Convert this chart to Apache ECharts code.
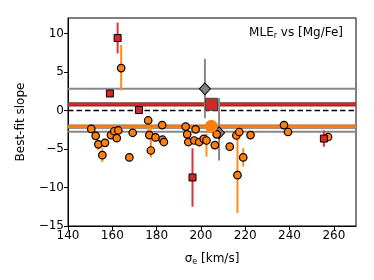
<!DOCTYPE html>
<html><head><meta charset="utf-8">
<script src="https://cdn.jsdelivr.net/npm/echarts@6/dist/echarts.min.js"></script>
<style>html,body{margin:0;padding:0;background:#fff}#c{width:374px;height:280px}</style>
</head><body><div id="c"></div>
<script>
// ---- data ----
const xTicks = [140, 160, 180, 200, 220, 240, 260];
const yTicks = [-15, -10, -5, 0, 5, 10];
const xRange = [140, 270];
const yRange = [-15, 12];

const orangeSigma = [150.5,152.5,153.7,156.7,155.5,159.4,160.9,162.7,162.0,169.2,167.7,176.2,176.7,177.4,179.5,182.5,182.7,183.3,193.1,193.8,194.3,197.0,197.6,199.2,201.3,202.5,206.3,207.1,213.0,216.0,217.3,216.5,219.1,222.4,237.5,239.3,257.4,164.0];
const orangeSlope = [-2.4,-3.3,-4.4,-4.2,-5.8,-3.2,-2.7,-2.6,-3.6,-2.9,-6.1,-1.3,-3.2,-5.2,-3.5,-1.9,-3.8,-4.1,-2.1,-3.1,-4.1,-3.9,-2.45,-4.1,-3.7,-3.9,-4.5,-3.1,-4.7,-3.25,-2.8,-8.4,-6.1,-3.2,-1.9,-2.8,-3.45,5.5];
const orangeErrSigma = [153.7,155.5,162.0,176.2,177.4,202.5,216.5,219.1,164.0];
const orangeErrLo    = [-5.1,-6.7,-4.1,-2.9,-6.1,-6.0,-13.3,-7.3,2.6];
const orangeErrHi    = [-4.4,-4.9,-3.1,-1.3,-2.3,-3.0,-3.3,-4.9,8.5];

const redSigma = [162.4,158.9,172.0,196.2,255.5];
const redSlope = [9.4,2.2,0.05,-8.7,-3.65];
const redErrSigma = [162.4,196.2,255.5];
const redErrLo    = [7.4,-12.5,-4.7];
const redErrHi    = [11.4,-4.9,-2.6];

const greySigma = [208.2,201.8];
const greySlope = [-2.9,2.8];
const greyErrLo = [-6.5,-1.0];
const greyErrHi = [1.6,6.7];

const meanOrange = [204.7,-2.05];
const meanRed = [204.8,0.8];
const hLineGrey = [2.8,-2.75];
const hLineRed = [0.8];
const hLineOrange = [-2.1];
const hLineZero = [0];

// ---- chart ----
const chart = echarts.init(document.getElementById('c'), null, {renderer:'canvas'});
const FONT = 'DejaVu Sans';
const minus = v => String(v).replace('-', '\u2212');
function errSeries(xs, lo, hi, color, w, z) {
  return {
    type:'custom', z:z, silent:true,
    data: xs.map((x,i)=>[x, lo[i], hi[i]]),
    encode:{x:0, y:[1,2]},
    renderItem:(params, api)=>{
      const a = api.coord([api.value(0), api.value(1)]);
      const b = api.coord([api.value(0), api.value(2)]);
      return {type:'line', shape:{x1:a[0],y1:a[1],x2:b[0],y2:b[1]}, style:{stroke:color, lineWidth:w}};
    }
  };
}
function hline(ys, color, w, dash, z) {
  return {
    type:'custom', z:z, silent:true, clip:true,
    data: ys.map(y=>[y]),
    encode:{y:0},
    renderItem:(params, api)=>{
      const y = api.value(0);
      const a = api.coord([xRange[0], y]);
      const b = api.coord([xRange[1], y]);
      return {type:'line', shape:{x1:a[0],y1:a[1],x2:b[0],y2:b[1]},
        style:{stroke:color, lineWidth:w, lineDash:dash}};
    }
  };
}
const series = [];
series.push(hline(hLineGrey, '#888888', 2, null, 1));
series.push(hline(hLineZero, '#000000', 1.6, [5.5,3], 2));
series.push(hline(hLineRed, '#7a3030', 4.2, null, 2));
series.push(hline(hLineRed, '#d62728', 2.6, null, 3));
series.push(hline(hLineOrange, '#8a6a50', 4.2, null, 2));
series.push(hline(hLineOrange, '#ff7f0e', 2.6, null, 3));
// grey points
series.push(errSeries(greySigma, greyErrLo, greyErrHi, '#888888', 2, 4));
series.push({type:'scatter', z:5, data:greySigma.map((x,i)=>[x,greySlope[i]]), symbol:'diamond', symbolSize:[11,12],
  itemStyle:{color:'#808080', borderColor:'#000', borderWidth:1, opacity:1}});
// orange
series.push(errSeries(orangeErrSigma, orangeErrLo, orangeErrHi, '#ff8c1a', 2, 6));
series.push({type:'scatter', z:7, data:orangeSigma.map((x,i)=>[x,orangeSlope[i]]), symbol:'circle', symbolSize:7.5,
  itemStyle:{color:'#ff7f0e', borderColor:'#000000', borderWidth:1.2, opacity:1}});
series.push({type:'scatter', z:8, data:[meanOrange], symbol:'circle', symbolSize:13,
  itemStyle:{color:'#ff7f0e', borderWidth:0, opacity:1}});
// red
series.push(errSeries(redErrSigma, redErrLo, redErrHi, '#e0303a', 2, 9));
series.push({type:'scatter', z:10, data:redSigma.map((x,i)=>[x,redSlope[i]]), symbol:'rect', symbolSize:7,
  itemStyle:{color:'#d62728', borderColor:'#000', borderWidth:1, opacity:1}});
series.push({type:'scatter', z:10, data:[meanRed], symbol:'rect', symbolSize:12,
  itemStyle:{color:'#d62728', borderColor:'#444', borderWidth:1, opacity:1}});

chart.setOption({
  animation:false,
  backgroundColor:'#fff',
  textStyle:{fontFamily:FONT},
  title:{
    text:'{a|MLE}{s|r}{a| vs [Mg/Fe]}',
    right:26, top:21,
    textStyle:{fontWeight:'normal', rich:{a:{fontFamily:FONT, fontSize:12, fontWeight:'normal', color:'#000'}, s:{fontFamily:FONT, fontSize:8, fontWeight:'normal', color:'#000', padding:[6,0,0,0]}}}
  },
  grid:{left:68, right:18, top:18, bottom:54, show:true, borderColor:'#000', borderWidth:1, backgroundColor:'transparent'},
  xAxis:{
    type:'value', min:xRange[0], max:xRange[1], interval:20,
    name:'{a|\u03c3}{s|e}{a| [km/s]}', nameLocation:'middle', nameGap:26,
    nameTextStyle:{rich:{a:{fontFamily:FONT, fontSize:12, color:'#000'}, s:{fontFamily:FONT, fontSize:8, color:'#000', padding:[6,0,0,0]}}},
    axisLine:{show:true, onZero:false, lineStyle:{color:'#000', width:1}},
    axisTick:{show:true, length:4, customValues:xTicks, lineStyle:{color:'#000'}},
    axisLabel:{customValues:xTicks, fontFamily:FONT, fontSize:12, color:'#000', margin:4},
    splitLine:{show:false}
  },
  yAxis:{
    type:'value', min:yRange[0], max:yRange[1], interval:5,
    name:'Best-fit slope', nameLocation:'middle', nameGap:41,
    nameTextStyle:{fontFamily:FONT, fontSize:12, color:'#000'},
    axisLine:{show:true, onZero:false, lineStyle:{color:'#000', width:1}},
    axisTick:{show:true, length:4, customValues:yTicks, lineStyle:{color:'#000'}},
    axisLabel:{customValues:yTicks, fontFamily:FONT, fontSize:12, color:'#000', margin:4, formatter:v=>minus(v)},
    splitLine:{show:false}
  },
  series:series
});
</script>
</body></html>
